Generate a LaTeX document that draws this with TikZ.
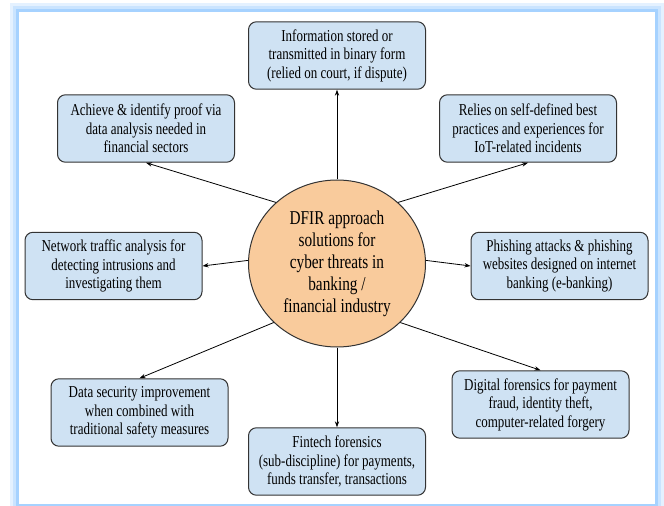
\documentclass[tikz,border=0pt]{standalone}
\usepackage{fontspec}
\setmainfont{Liberation Serif}
\newfontfamily\narrowfont[FakeStretch=0.78]{Liberation Serif}
\usetikzlibrary{shapes.geometric,arrows.meta}
\definecolor{boxfill}{HTML}{CFE2F3}
\definecolor{circfill}{HTML}{F9CB9C}
\definecolor{glowblue}{HTML}{A6D2FF}
\definecolor{edgegray}{HTML}{333333}
\tikzset{
  infobox/.style={draw=edgegray, line width=0.75pt, fill=boxfill, rounded corners=6pt,
    minimum width=132.75pt, minimum height=50.6pt, align=center, inner sep=0pt,
    font={\narrowfont\fontsize{12.5}{13.9}\selectfont}},
  hub/.style={ellipse, draw=edgegray, line width=0.75pt, fill=circfill,
    minimum width=132.75pt, minimum height=125.25pt, align=center, inner sep=0pt,
    font={\narrowfont\fontsize{14.7}{16.5}\selectfont}},
  link/.style={draw=black, line width=0.6pt, -{Stealth[length=4.5pt,width=3.2pt]}}
}
\begin{document}
\begin{tikzpicture}[x=0.75pt,y=-0.75pt]
\useasboundingbox (0,0) rectangle (664,506);
% frame glow
\draw[glowblue!30, line width=13.5pt] (19,12) rectangle (655,504);
\draw[glowblue!60, line width=9pt] (19,12) rectangle (655,504);
\draw[glowblue, line width=4.5pt] (19,12) rectangle (655,504);
\fill[white] (19,12) rectangle (655,504);
% hub
\node[hub] (c) at (337,263.5) {DFIR approach\\solutions for\\cyber threats in\\banking /\\financial industry};
% boxes
\node[infobox] (t) at (337,55.5) {Information stored or\\transmitted in binary form\\(relied on court, if dispute)};
\node[infobox] (tl) at (146,128.5) {Achieve \& identify proof via\\data analysis needed in\\financial sectors};
\node[infobox] (tr) at (528,128.5) {Relies on self-defined best\\practices and experiences for\\IoT-related incidents};
\node[infobox] (ll) at (113.5,266) {Network traffic analysis for\\detecting intrusions and\\investigating them};
\node[infobox] (rr) at (559.5,266) {Phishing attacks \& phishing\\websites designed on internet\\banking (e-banking)};
\node[infobox] (bl) at (139.5,412.5) {Data security improvement\\when combined with\\traditional safety measures};
\node[infobox] (br) at (540.5,404.5) {Digital forensics for payment\\fraud, identity theft,\\computer-related forgery};
\node[infobox] (b) at (337,461.5) {Fintech forensics\\(sub-discipline) for payments,\\funds transfer, transactions};
% connectors
\draw[link] (c.north) -- (t.south);
\draw[link] (c.135) -- (tl.south);
\draw[link] (c.45) -- (tr.south);
\draw[link] (c.178) -- (ll.east);
\draw[link] (c.2) -- (rr.west);
\draw[link] (c.223) -- (bl.north);
\draw[link] (c.-43) -- (br.north);
\draw[link] (c.south) -- (b.north);
\end{tikzpicture}
\end{document}
